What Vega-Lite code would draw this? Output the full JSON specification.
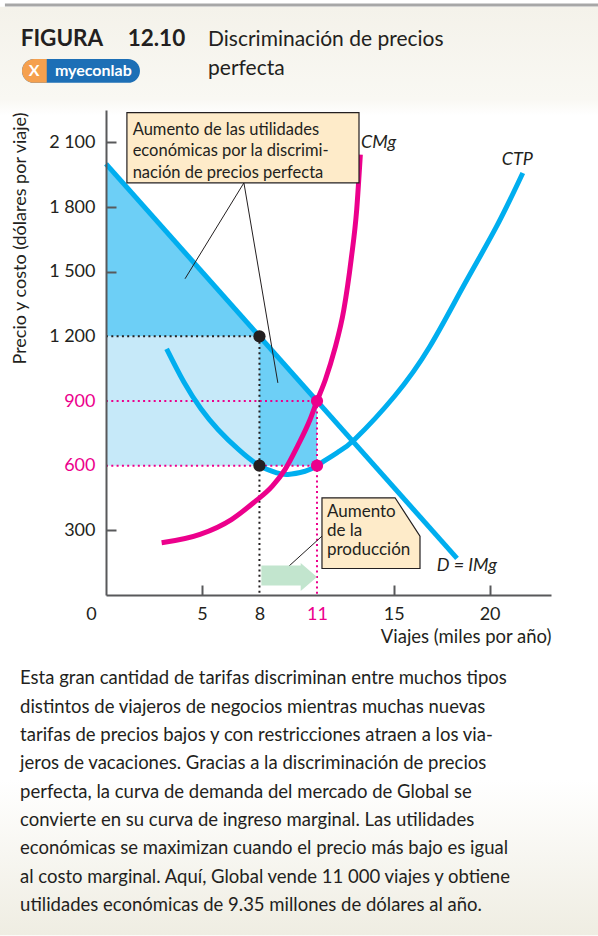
{
  "$schema": "https://vega.github.io/schema/vega-lite/v6.json",
  "width": 445,
  "height": 485,
  "autosize": {"type": "none"},
  "padding": {"left": 106, "top": 110, "right": 47, "bottom": 341},
  "background": "#ffffff",
  "config": {"view": {"stroke": null}, "font": "Lato"},
  "encoding": {
    "x": {
      "field": "q",
      "type": "quantitative",
      "scale": {"domain": [0, 23.2], "nice": false, "zero": false},
      "axis": {
        "title": "Viajes (miles por año)",
        "values": [0, 5, 8, 11, 15, 20],
        "grid": false,
        "zindex": 1,
        "domainColor": "#58595b",
        "domainWidth": 2,
        "tickColor": "#58595b",
        "tickWidth": 2,
        "tickSize": -10,
        "tickOpacity": {"condition": {"test": "datum.value == 0 || datum.value == 8 || datum.value == 11", "value": 0}, "value": 1},
        "labelPadding": 20,
        "labelFont": "Lato",
        "labelFontSize": 18,
        "labelBaseline": "top",
        "labelFlush": false,
        "labelOverlap": false,
        "labelColor": {"condition": {"test": "datum.value == 11", "value": "#ec008c"}, "value": "#231f20"},
        "labelOffset": {"condition": {"test": "datum.value == 0", "value": -15}, "value": 0},
        "titleFont": "Lato",
        "titleFontSize": 18.5,
        "titleFontWeight": "normal",
        "titleColor": "#231f20",
        "titleAnchor": "end",
        "titleAlign": "right",
        "titleBaseline": "alphabetic",
        "titleX": 445,
        "titleY": 47
      }
    },
    "y": {
      "field": "p",
      "type": "quantitative",
      "scale": {"domain": [0, 2250], "nice": false, "zero": false},
      "axis": {
        "title": "Precio y costo (dólares por viaje)",
        "values": [300, 600, 900, 1200, 1500, 1800, 2100],
        "grid": false,
        "zindex": 1,
        "domainColor": "#58595b",
        "domainWidth": 2,
        "tickColor": "#58595b",
        "tickWidth": 2,
        "tickSize": -10,
        "tickOpacity": {"condition": {"test": "datum.value == 600 || datum.value == 900 || datum.value == 1200", "value": 0}, "value": 1},
        "labelPadding": 21,
        "labelFont": "Lato",
        "labelFontSize": 18,
        "labelAlign": "right",
        "labelBaseline": "middle",
        "labelExpr": "replace(format(datum.value, ','), ',', ' ')",
        "labelColor": {"condition": {"test": "datum.value == 600 || datum.value == 900", "value": "#ec008c"}, "value": "#231f20"},
        "titleFont": "Lato",
        "titleFontSize": 18,
        "titleFontWeight": "normal",
        "titleColor": "#231f20",
        "titleAngle": 270,
        "titleAnchor": "end",
        "titleAlign": "right",
        "titleBaseline": "alphabetic",
        "titleX": -81,
        "titleY": 2
      }
    }
  },
  "layer": [
    {
      "data": {"values": [{"q": -5.53, "q2": 25.65, "p": 2729, "p2": 2225}]},
      "mark": {"type": "rect", "fill": {"gradient": "linear", "x1": 0, "y1": 0, "x2": 0, "y2": 1, "stops": [{"offset": 0, "color": "#f4f2ea"}, {"offset": 0.85, "color": "#f9f8f3"}, {"offset": 1, "color": "#ffffff"}]}},
      "encoding": {"x2": {"field": "q2"}, "y2": {"field": "p2"}}
    },
    {
      "data": {"values": [{"q": -5.53, "q2": 25.65, "p": -857, "p2": -1579}]},
      "mark": {"type": "rect", "fill": {"gradient": "linear", "x1": 0, "y1": 0, "x2": 0, "y2": 1, "stops": [{"offset": 0, "color": "#ffffff"}, {"offset": 1, "color": "#efede2"}]}},
      "encoding": {"x2": {"field": "q2"}, "y2": {"field": "p2"}}
    },
    {
      "data": {"values": [{"q": -5.27, "q2": 25.65, "p": 2737}]},
      "mark": {"type": "rule", "color": "#a7a7a7", "strokeWidth": 3},
      "encoding": {"x2": {"field": "q2"}}
    },
    {
      "data": {"values": [{"q": 0, "p": 1200, "p2": 600}, {"q": 8, "p": 1200, "p2": 600}]},
      "mark": {"type": "area", "color": "#c6e9f9", "opacity": 1},
      "encoding": {"y2": {"field": "p2"}}
    },
    {
      "data": {"values": [
        {"g": "a", "q": 0, "p": 2000, "p2": 1200},
        {"g": "a", "q": 8, "p": 1200, "p2": 1200},
        {"g": "b", "q": 8, "p": 1200, "p2": 600},
        {"g": "b", "q": 11, "p": 900, "p2": 600}
      ]},
      "mark": {"type": "area", "color": "#6dcff6", "opacity": 1},
      "encoding": {"y2": {"field": "p2"}, "detail": {"field": "g"}}
    },
    {
      "data": {"values": [{"q": 0, "p": 1200, "q2": 8, "p2": 1200}, {"q": 8, "p": 1200, "q2": 8, "p2": 0}]},
      "mark": {"type": "rule", "color": "#231f20", "strokeWidth": 2, "strokeDash": [2, 3.3]},
      "encoding": {"x2": {"field": "q2"}, "y2": {"field": "p2"}}
    },
    {
      "data": {"values": [{"q": 0, "p": 900, "q2": 11, "p2": 900}, {"q": 0, "p": 600, "q2": 11, "p2": 600}, {"q": 11, "p": 900, "q2": 11, "p2": 0}]},
      "mark": {"type": "rule", "color": "#ec008c", "strokeWidth": 2, "strokeDash": [2, 3.3]},
      "encoding": {"x2": {"field": "q2"}, "y2": {"field": "p2"}}
    },
    {
      "data": {"values": [
        {"c": "CTP", "q": 3.16, "p": 1142},
        {"c": "CTP", "q": 4.06, "p": 988},
        {"c": "CTP", "q": 4.95, "p": 864},
        {"c": "CTP", "q": 5.85, "p": 767},
        {"c": "CTP", "q": 6.92, "p": 674},
        {"c": "CTP", "q": 8, "p": 600},
        {"c": "CTP", "q": 8.89, "p": 567},
        {"c": "CTP", "q": 9.48, "p": 559},
        {"c": "CTP", "q": 10.38, "p": 574},
        {"c": "CTP", "q": 11, "p": 600},
        {"c": "CTP", "q": 12.06, "p": 661},
        {"c": "CTP", "q": 13.0, "p": 725},
        {"c": "CTP", "q": 15.04, "p": 922},
        {"c": "CTP", "q": 16.89, "p": 1154},
        {"c": "CTP", "q": 18.63, "p": 1432},
        {"c": "CTP", "q": 20.37, "p": 1711},
        {"c": "CTP", "q": 21.73, "p": 1958},
        {"c": "D", "q": 0, "p": 2000},
        {"c": "D", "q": 18.3, "p": 170}
      ]},
      "mark": {"type": "line", "color": "#00aeef", "strokeWidth": 5, "interpolate": "natural", "strokeCap": "butt"},
      "encoding": {"detail": {"field": "c"}}
    },
    {
      "data": {"values": [
        {"q": 2.9, "p": 242},
        {"q": 4.9, "p": 281},
        {"q": 6.54, "p": 350},
        {"q": 7.69, "p": 428},
        {"q": 8.67, "p": 505},
        {"q": 9.33, "p": 582},
        {"q": 9.98, "p": 690},
        {"q": 10.64, "p": 814},
        {"q": 11, "p": 900},
        {"q": 11.44, "p": 1000},
        {"q": 11.92, "p": 1139},
        {"q": 12.4, "p": 1324},
        {"q": 12.78, "p": 1556},
        {"q": 13.07, "p": 1788},
        {"q": 13.26, "p": 2043}
      ]},
      "mark": {"type": "line", "color": "#ec008c", "strokeWidth": 5, "interpolate": "monotone", "strokeCap": "butt"}
    },
    {
      "data": {"values": [{"q": 8, "p": 1200}, {"q": 8, "p": 600}]},
      "mark": {"type": "circle", "color": "#231f20", "size": 150, "opacity": 1}
    },
    {
      "data": {"values": [{"q": 11, "p": 900}, {"q": 11, "p": 600}]},
      "mark": {"type": "circle", "color": "#ec008c", "size": 150, "opacity": 1}
    },
    {
      "data": {"values": [
        {"q": 7.19, "p": 1912, "q2": 4.12, "p2": 1467},
        {"q": 7.19, "p": 1912, "q2": 8.96, "p2": 984},
        {"q": 11.26, "p": 273, "q2": 9.34, "p2": 118}
      ]},
      "mark": {"type": "rule", "color": "#231f20", "strokeWidth": 1},
      "encoding": {"x2": {"field": "q2"}, "y2": {"field": "p2"}}
    },
    {
      "data": {"values": [{"q": 8.1, "p": 137, "p2": 44}, {"q": 10.15, "p": 137, "p2": 44}, {"q": 10.15, "p": 149, "p2": 18}, {"q": 11, "p": 84, "p2": 84}]},
      "mark": {"type": "area", "color": "#c2e5ce", "opacity": 1},
      "encoding": {"y2": {"field": "p2"}}
    },
    {
      "data": {"values": [{"q": 1.09, "q2": 13.19, "p": 2238, "p2": 1912}]},
      "mark": {"type": "rect", "fill": "#feebc9", "stroke": "#231f20", "strokeWidth": 1.2},
      "encoding": {"x2": {"field": "q2"}, "y2": {"field": "p2"}}
    },
    {
      "data": {"values": [{"q": 11.26, "p": 451, "p2": 123}, {"q": 15.07, "p": 451, "p2": 123}, {"q": 16.37, "p": 273, "p2": 123}]},
      "mark": {"type": "area", "fill": "#feebc9", "stroke": "#231f20", "strokeWidth": 1.2, "opacity": 1},
      "encoding": {"y2": {"field": "p2"}}
    },
    {
      "data": {"values": [{"q": 1.39, "p": 2136, "t": "Aumento de las utilidades\neconómicas por la discrimi-\nnación de precios perfecta"}]},
      "mark": {"type": "text", "align": "left", "baseline": "alphabetic", "font": "Lato", "fontSize": 16.5, "lineHeight": 21.5, "lineBreak": "\n", "color": "#231f20"},
      "encoding": {"text": {"field": "t"}}
    },
    {
      "data": {"values": [{"q": 11.52, "p": 363, "t": "Aumento\nde la\nproducción"}]},
      "mark": {"type": "text", "align": "left", "baseline": "alphabetic", "font": "Lato", "fontSize": 17, "lineHeight": 19, "lineBreak": "\n", "color": "#231f20"},
      "encoding": {"text": {"field": "t"}}
    },
    {
      "data": {"values": [{"q": 13.3, "p": 2076, "t": "CMg"}, {"q": 20.63, "p": 1997, "t": "CTP"}, {"q": 17.24, "p": 110, "t": "D = IMg"}]},
      "mark": {"type": "text", "align": "left", "baseline": "alphabetic", "font": "Lato", "fontSize": 18, "fontStyle": "italic", "color": "#231f20"},
      "encoding": {"text": {"field": "t"}}
    },
    {
      "data": {"values": [{"q": -4.45, "p": 2546, "t": "FIGURA"}, {"q": 1.13, "p": 2546, "t": "12.10"}]},
      "mark": {"type": "text", "align": "left", "baseline": "alphabetic", "font": "Lato", "fontSize": 22.5, "fontWeight": "bold", "color": "#231f20"},
      "encoding": {"text": {"field": "t"}}
    },
    {
      "data": {"values": [{"q": 5.32, "p": 2546, "t": "Discriminación de precios\nperfecta"}]},
      "mark": {"type": "text", "align": "left", "baseline": "alphabetic", "font": "Lato", "fontSize": 21, "lineHeight": 29.3, "lineBreak": "\n", "color": "#231f20"},
      "encoding": {"text": {"field": "t"}}
    },
    {
      "data": {"values": [{"q": -4.38, "q2": 1.77, "p": 2487, "p2": 2376}]},
      "mark": {"type": "rect", "fill": "#1d6fb6", "cornerRadius": 12},
      "encoding": {"x2": {"field": "q2"}, "y2": {"field": "p2"}}
    },
    {
      "data": {"values": [{"q": -4.38, "q2": -3.09, "p": 2487, "p2": 2376}]},
      "mark": {"type": "rect", "fill": "#f5a04e", "cornerRadiusTopLeft": 12, "cornerRadiusBottomLeft": 12},
      "encoding": {"x2": {"field": "q2"}, "y2": {"field": "p2"}}
    },
    {
      "data": {"values": [{"q": -0.66, "p": 2431, "t": "myeconlab"}, {"q": -3.75, "p": 2431, "t": "X"}]},
      "mark": {"type": "text", "align": "center", "baseline": "middle", "font": "Lato", "fontSize": 16, "fontWeight": "bold", "color": "#ffffff"},
      "encoding": {"text": {"field": "t"}}
    },
    {
      "data": {"values": [{"q": -4.48, "p": -415, "t": "Esta gran cantidad de tarifas discriminan entre muchos tipos\ndistintos de viajeros de negocios mientras muchas nuevas\ntarifas de precios bajos y con restricciones atraen a los via-\njeros de vacaciones. Gracias a la discriminación de precios\nperfecta, la curva de demanda del mercado de Global se\nconvierte en su curva de ingreso marginal. Las utilidades\neconómicas se maximizan cuando el precio más bajo es igual\nal costo marginal. Aquí, Global vende 11 000 viajes y obtiene\nutilidades económicas de 9.35 millones de dólares al año."}]},
      "mark": {"type": "text", "align": "left", "baseline": "alphabetic", "font": "Lato", "fontSize": 18.5, "lineHeight": 28.3, "lineBreak": "\n", "color": "#231f20"},
      "encoding": {"text": {"field": "t"}}
    }
  ]
}
